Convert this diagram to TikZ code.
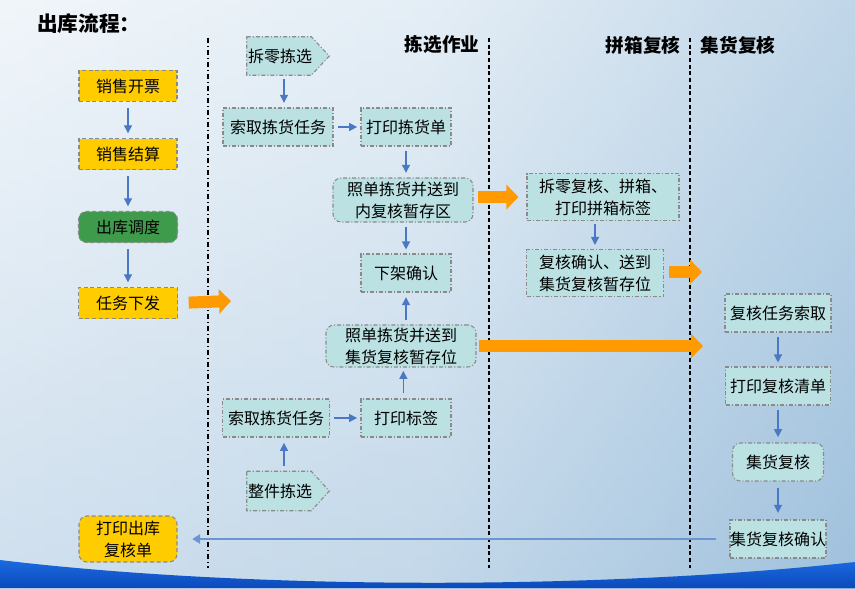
\documentclass[tikz,border=0pt]{standalone}
\usepackage{fontspec}
\newfontfamily\cjk{Noto Sans CJK SC}
\usetikzlibrary{arrows.meta,calc}
\definecolor{yel}{HTML}{FFCC00}
\definecolor{grn}{HTML}{3F9B4C}
\definecolor{tea}{HTML}{BBE1E3}
\definecolor{bord}{HTML}{8A8A8A}
\definecolor{blu}{HTML}{4A78C4}
\definecolor{blu2}{HTML}{6A95D0}
\definecolor{ora}{HTML}{FF9A00}
\definecolor{bgA}{HTML}{E2ECF5}
\definecolor{bgB}{HTML}{CADDEC}
\definecolor{bgC}{HTML}{82AED2}
\definecolor{bgD}{HTML}{BCD3E7}
\definecolor{wave}{HTML}{1A6AE0}
\definecolor{waveD}{HTML}{0B47B8}
\begin{document}
\begin{tikzpicture}[x={(0.75pt,0)},y={(0,-0.75pt)},
  sz/.style 2 args={minimum width=#1*0.75pt, minimum height=#2*0.75pt},
  base/.style={font=\cjk\fontsize{12}{16.5}\selectfont, text=black, inner sep=0pt, draw=bord, line width=0.8pt, align=center},
  ybox/.style={base, fill=yel, densely dashed},
  gbox/.style={base, fill=grn, densely dashed, rounded corners=6pt},
  tbox/.style={base, fill=tea, dash pattern=on 3pt off 1.5pt on 0.8pt off 1.5pt},
  tnode/.style={font=\cjk\fontsize{12}{16.5}\selectfont, text=black, inner sep=0pt},
  tborder/.style={fill=tea, draw=bord, line width=0.8pt, dash pattern=on 3pt off 1.5pt on 0.8pt off 1.5pt},
  barrow/.style={draw=blu, line width=0.9pt, -{Triangle[length=6pt,width=6pt]}},
  oarrow/.style={draw=ora, line width=9pt, -{Triangle[length=9pt,width=18pt]}},
  hdr/.style={font=\cjk\bfseries\fontsize{14}{16}\selectfont, text=black, inner sep=0pt},
  lane/.style={line width=0.8pt, black}
]
% background
\useasboundingbox (0,0) rectangle (855,588);
\shade[left color=bgA, right color=bgC, middle color=bgB] (0,0) rectangle (855,588);
\shade[top color=white, bottom color=bgD, opacity=0.5] (0,0) rectangle (855,588);
% bottom wave
\shade[top color=wave, bottom color=waveD] (0,560) .. controls (250,590) and (600,590) .. (855,562) -- (855,588) -- (0,588) -- cycle;

% title and headers
\node[font=\cjk\bfseries\fontsize{15.5}{18}\selectfont, inner sep=0pt, anchor=west] (title) at (37,24) {出库流程：};
\node[hdr] (h1) at (442,45) {拣选作业};
\node[hdr] (h2) at (643,45) {拼箱复核};
\node[hdr] (h3) at (738,45) {集货复核};

% lanes
\coordinate (l1t) at (208,38); \coordinate (l1b) at (208,568);
\coordinate (l2t) at (489,38); \coordinate (l2b) at (489,568);
\coordinate (l3t) at (690,38); \coordinate (l3b) at (690,568);
\draw[lane, dash pattern=on 4pt off 2pt on 1pt off 2pt] (l1t) -- (l1b);
\draw[lane, dash pattern=on 3pt off 2pt] (l2t) -- (l2b);
\draw[lane, dash pattern=on 3pt off 2pt] (l3t) -- (l3b);

% left column
\node[ybox,sz={98}{31}] (n1) at (128,86) {销售开票};
\node[ybox,sz={98}{31}] (n2) at (128,154) {销售结算};
\node[gbox,sz={99}{31}] (n3) at (128,227) {出库调度};
\node[ybox,sz={99}{31}] (n4) at (128,303) {任务下发};
\node[ybox,rounded corners=6pt,sz={98}{46}] (n5) at (128,539) {打印出库\\复核单};
\draw[barrow, shorten <=4.5pt, shorten >=3.5pt] (n1) -- (n2);
\draw[barrow, shorten <=4.5pt, shorten >=3.5pt] (n2) -- (n3);
\draw[barrow, shorten <=4.5pt, shorten >=3.5pt] (n3) -- (n4);

% picking column
\node[tnode,sz={66}{38}] (p0) at (280,56) {拆零拣选};
\draw[tborder] (p0.north west) -- ($(p0.north east)+(-2,0)$) -- ($(p0.east)+(16,0)$) -- ($(p0.south east)+(-2,0)$) -- (p0.south west) -- cycle;
\node[tnode] at (p0) {拆零拣选};
\node[tbox,sz={110}{38}] (p1) at (278,127) {索取拣货任务};
\node[tbox,sz={90}{38}] (p2) at (406,127) {打印拣货单};
\node[tbox,rounded corners=6pt,sz={140}{44}] (p3) at (403,200) {照单拣货并送到\\内复核暂存区};
\node[tbox,sz={90}{38}] (p4) at (406,273) {下架确认};
\node[tbox,rounded corners=6pt,sz={150}{42}] (p5) at (401,346) {照单拣货并送到\\集货复核暂存位};
\node[tbox,sz={107}{38}] (p6) at (276,418) {索取拣货任务};
\node[tbox,sz={90}{38}] (p7) at (406,418) {打印标签};
\node[tnode,sz={66}{39}] (p8) at (280,491) {整件拣选};
\draw[tborder] (p8.north west) -- ($(p8.north east)+(-2,0)$) -- ($(p8.east)+(16,0)$) -- ($(p8.south east)+(-2,0)$) -- (p8.south west) -- cycle;
\node[tnode] at (p8) {整件拣选};

\draw[barrow, shorten <=2.5pt, shorten >=3.5pt] ([xshift=3pt]p0.south) -- ([xshift=3pt]p0.south |- p1.north);
\draw[barrow, shorten <=3pt, shorten >=2.5pt] (p1.east) -- (p2.west);
\draw[barrow, shorten <=3.5pt, shorten >=3.5pt] (p2.south) -- (p2.south |- p3.north);
\draw[barrow, shorten <=3pt, shorten >=3pt] (p3.south -| p4) -- (p4.north);
\draw[barrow, shorten <=3pt, shorten >=3.5pt] (p5.north -| p4) -- (p4.south);
\draw[barrow, shorten <=4pt, shorten >=2.5pt] ([xshift=-2pt]p7.north) -- ([xshift=-2pt]p7.north |- p5.south);
\draw[barrow, shorten <=3pt, shorten >=2.5pt] (p6.east) -- (p7.west);
\draw[barrow, shorten <=4pt, shorten >=4pt] ([xshift=3pt]p8.north) -- ([xshift=3pt]p8.north |- p6.south);

% pinxiang column
\node[tbox,sz={152}{47}] (q1) at (603,197) {拆零复核、拼箱、\\打印拼箱标签};
\node[tbox,sz={137}{47}] (q2) at (595,273) {复核确认、送到\\集货复核暂存位};
\draw[barrow, shorten <=2.5pt, shorten >=3pt] (q1.south -| q2) -- (q2.north);

% jihuo column
\node[tbox,sz={106}{38}] (r1) at (778,313) {复核任务索取};
\node[tbox,sz={105}{38}] (r2) at (778,386) {打印复核清单};
\node[tbox,rounded corners=6pt,sz={91}{38}] (r3) at (778,462) {集货复核};
\node[tbox,sz={91}{38}] (r4) at (778,539) {集货复核确认};
\draw[barrow, shorten <=3pt, shorten >=3pt] (r1) -- (r2);
\draw[barrow, shorten <=3pt, shorten >=4pt] (r2) -- (r3);
\draw[barrow, shorten <=4.5pt, shorten >=5pt] (r3) -- (r4);

% return arrow
\draw[draw=blu2, line width=1.6pt, -{Triangle[length=6pt,width=7pt]}, shorten <=10pt, shorten >=11pt] (r4.west) -- (n5.east);

% orange arrows
\coordinate (o1) at (231,301);
\coordinate (o3) at (702,272);
\coordinate (o4) at (703,346);
\draw[oarrow, shorten <=8pt] (n4.east) -- (o1);
\draw[oarrow, shorten <=3.5pt, shorten >=6pt] (p3.east |- q1.west) -- (q1.west);
\draw[oarrow, shorten <=3.5pt] (q2.east |- o3) -- (o3);
\draw[oarrow, shorten <=1.5pt] (p5.east) -- (o4);
\end{tikzpicture}
\end{document}
